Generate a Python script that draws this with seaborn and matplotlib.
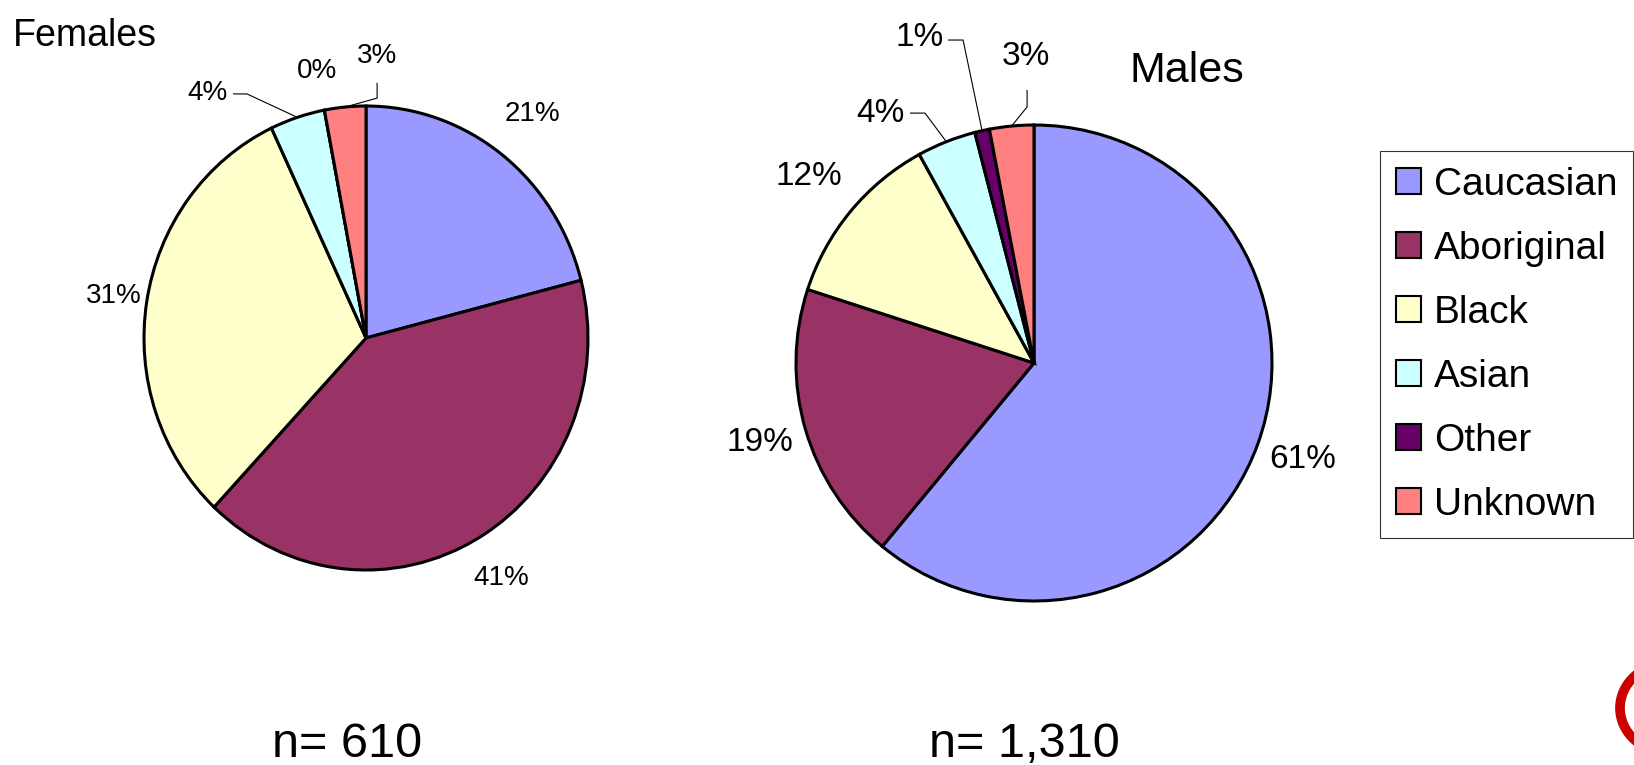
import numpy as np
import matplotlib
matplotlib.use("Agg")
import matplotlib.pyplot as plt
from matplotlib.patches import Patch, Ellipse
import seaborn as sns

# data (percent of each group)
categories = ["Caucasian", "Aboriginal", "Black", "Asian", "Other", "Unknown"]
female_pct = [21, 41, 31, 4, 0, 3]
male_pct = [61, 19, 12, 4, 1, 3]
female_n = "610"
male_n = "1,310"
colors = ["#9999FF", "#993366", "#FFFFCC", "#CCFFFF", "#660066", "#FF8080"]

sns.set_style("white")
plt.rcParams["font.family"] = ["Liberation Sans", "DejaVu Sans"]
plt.rcParams["text.color"] = "black"

W, H = 1634, 765
fig = plt.figure(figsize=(W / 100, H / 100), dpi=100)
fig.patch.set_facecolor("white")


def px_axes(cx, cy, rx, ry):
    # axes box that holds the pie's bounding ellipse, given in pixels
    return fig.add_axes([(cx - rx) / W, (H - cy - ry) / H, 2 * rx / W, 2 * ry / H])


def draw_pie(ax, values, layout, fs):
    wedges, _ = ax.pie(values, colors=sns.color_palette(colors), startangle=90,
                       counterclock=False,
                       wedgeprops=dict(edgecolor="black", linewidth=2.2))
    ax.set_aspect("auto")
    ax.set_xlim(-1, 1)
    ax.set_ylim(-1, 1)
    ax.axis("off")
    for w, v, lay in zip(wedges, values, layout):
        mid = np.deg2rad((w.theta1 + w.theta2) / 2)
        ex, ey = np.cos(mid), np.sin(mid)
        if lay[0] == "r":
            tx, ty = lay[1] * ex, lay[1] * ey
        else:
            tx, ty = lay[1]
            (sx, sy), (kx, ky) = lay[2], lay[3]
            ax.plot([sx, kx, ex], [sy, ky, ey], color="black", lw=0.8,
                    clip_on=False, solid_capstyle="butt")
        ax.text(tx, ty, f"{v}%", ha="center", va="center", fontsize=fs,
                color="black", clip_on=False)


# label layout: ("r", distance) or ("lead", text_xy, line_start, knee)
female_layout = [
    ("r", 1.22),
    ("r", 1.20),
    ("r", 1.15),
    ("lead", (-0.712, 1.056), (-0.599, 1.052), (-0.536, 1.052)),
    ("r", 1.17),
    ("lead", (0.05, 1.216), (0.05, 1.10), (0.05, 1.034)),
]
male_layout = [
    ("r", 1.20),
    ("r", 1.20),
    ("r", 1.23),
    ("lead", (-0.647, 1.05), (-0.521, 1.05), (-0.458, 1.05)),
    ("lead", (-0.479, 1.366), (-0.361, 1.357), (-0.298, 1.357)),
    ("lead", (-0.034, 1.286), (-0.029, 1.147), (-0.029, 1.076)),
]

ax_f = px_axes(366, 338, 222, 232)
draw_pie(ax_f, female_pct, female_layout, 20)

ax_m = px_axes(1034, 363, 238, 238)
draw_pie(ax_m, male_pct, male_layout, 24)

fig.text(13 / W, 1 - 46 / H, "Females", ha="left", va="baseline", fontsize=27)
fig.text(1187 / W, 1 - 82 / H, "Males", ha="center", va="baseline", fontsize=31)
fig.text(347 / W, 1 - 757 / H, f"n= {female_n}", ha="center", va="baseline", fontsize=35)
fig.text(1024 / W, 1 - 757 / H, f"n= {male_n}", ha="center", va="baseline", fontsize=35)

handles = [Patch(facecolor=c, edgecolor="black", linewidth=1.5, label=cat)
           for c, cat in zip(colors, categories)]
leg = fig.legend(handles=handles, loc="upper left",
                 bbox_to_anchor=(1380 / W, 1 - 151 / H), fontsize=28,
                 frameon=True, fancybox=False, edgecolor="black",
                 handlelength=0.65, handleheight=0.65, handletextpad=0.33,
                 labelspacing=0.72, borderpad=0.4, borderaxespad=0)
leg.get_frame().set_linewidth(0.8)
for t in leg.get_texts():
    t.set_color("black")

# clipped logo at the lower right corner
fig.add_artist(Ellipse((1670 / W, 1 - 708 / H), 100 / W, 90 / H,
                       transform=fig.transFigure, facecolor="white",
                       edgecolor="#CC0000", linewidth=7))

fig.savefig("out.png", dpi=100, facecolor="white")
